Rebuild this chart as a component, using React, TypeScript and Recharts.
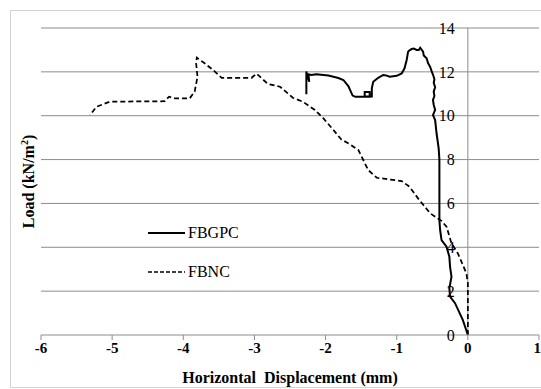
import {
  Line,
  LineChart,
  ReferenceDot,
  ReferenceLine,
  XAxis,
  YAxis,
} from "recharts";

// FBGPC (solid) - displacement (mm) and load (kN/m2), from origin outward
const fbgpcX = [
  0, -0.07, -0.18, -0.25, -0.26, -0.23, -0.25, -0.26, -0.3, -0.37, -0.39, -0.4,
  -0.4, -0.4, -0.41, -0.42, -0.44, -0.46, -0.49, -0.46, -0.48, -0.49, -0.47,
  -0.48, -0.46, -0.48, -0.47, -0.48, -0.5, -0.53, -0.56, -0.58, -0.62, -0.63,
  -0.67, -0.69, -0.72, -0.76, -0.79, -0.82, -0.84, -0.86, -0.89, -0.93, -1.0,
  -1.1, -1.15, -1.19, -1.26, -1.33, -1.35, -1.35, -1.36, -1.45, -1.45, -1.38,
  -1.38, -1.58, -1.62, -1.68, -1.75, -1.82, -1.89, -1.96, -2.03, -2.13, -2.2,
  -2.24, -2.23, -2.26, -2.27, -2.27,
];
const fbgpcY = [
  0, 0.68, 1.45, 1.75, 2.13, 2.66, 3.11, 3.57, 4.03, 4.33, 4.79, 5.24, 6.5, 8.0,
  8.5, 8.74, 9.2, 9.8, 10.03, 10.26, 10.5, 10.72, 10.9, 11.1, 11.3, 11.5, 11.65,
  11.78, 11.95, 12.23, 12.4, 12.62, 12.75, 12.92, 13.1, 13.0, 13.0, 13.06, 13.04,
  12.98, 12.92, 12.54, 12.16, 11.93, 11.82, 11.78, 11.84, 11.86, 11.73, 11.55,
  11.25, 10.88, 10.88, 10.88, 11.08, 11.08, 10.86, 10.86, 10.92, 11.35, 11.63,
  11.72, 11.78, 11.83, 11.86, 11.89, 11.86, 11.89, 11.55, 11.86, 12.02, 10.98,
];

// FBNC (dashed)
const fbncX = [
  0, 0, -0.02, -0.14, -0.23, -0.3, -0.37, -0.53, -0.7, -0.82, -0.93, -1.28, -1.4,
  -1.47, -1.54, -1.66, -1.78, -1.89, -2.03, -2.15, -2.32, -2.46, -2.64, -2.81,
  -2.9, -2.97, -3.04, -3.46, -3.58, -3.7, -3.81, -3.82, -3.8, -3.84, -3.91,
  -4.12, -4.2, -4.26, -5.03, -5.22, -5.31,
];
const fbncY = [
  0, 2.36, 2.81, 3.72, 4.18, 4.94, 5.2, 5.55, 6.23, 6.76, 7.02, 7.17, 7.52, 7.98,
  8.44, 8.7, 8.92, 9.35, 9.88, 10.26, 10.64, 10.82, 11.32, 11.45, 11.71, 11.92,
  11.73, 11.73, 12.08, 12.39, 12.65, 12.4, 11.78, 11.1, 10.79, 10.79, 10.87,
  10.66, 10.64, 10.41, 10.03,
];

const xTicks = [-6, -5, -4, -3, -2, -1, 0, 1];
const yTicks = [0, 2, 4, 6, 8, 10, 12, 14];

const fbgpc = fbgpcX.map((x, i) => ({ x, y: fbgpcY[i] }));
const fbnc = fbncX.map((x, i) => ({ x, y: fbncY[i] }));

const serif = "'Liberation Serif', 'Times New Roman', serif";
const gridColor = "#8c8c8c";

function YTitle(props: any) {
  const vb = props.viewBox;
  const cx = vb.x + 34;
  const cy = vb.y + vb.height / 2;
  return (
    <text
      transform={`translate(${cx}, ${cy}) rotate(-90)`}
      textAnchor="middle"
      fontFamily={serif}
      fontWeight="bold"
      fontSize={16}
      fill="#000"
    >
      <tspan>Load (kN/m</tspan>
      <tspan dy={-6} fontSize={10}>
        2
      </tspan>
      <tspan dy={6}>)</tspan>
    </text>
  );
}

function XTitle(props: any) {
  const vb = props.viewBox;
  return (
    <text
      x={vb.x + vb.width / 2}
      y={vb.y + 48}
      textAnchor="middle"
      fontFamily={serif}
      fontWeight="bold"
      fontSize={16}
      fill="#000"
      style={{ whiteSpace: "pre" }}
    >
      {"Horizontal  Displacement (mm)"}
    </text>
  );
}

function LegendRow({ label, dash }: { label: string; dash?: string }) {
  return (
    <div style={{ display: "flex", alignItems: "center", height: 20 }}>
      <svg width={40} height={6}>
        <line
          x1={0}
          y1={3}
          x2={37}
          y2={3}
          stroke="#000"
          strokeWidth={dash ? 1.5 : 2}
          strokeDasharray={dash}
        />
      </svg>
      <span style={{ fontFamily: serif, fontSize: 16, color: "#000" }}>
        {label}
      </span>
    </div>
  );
}

export default function App() {
  return (
    <div
      style={{
        position: "absolute",
        left: 0,
        top: 0,
        width: 541,
        height: 389,
        background: "#fff",
        overflow: "hidden",
      }}
    >
      <div
        style={{
          position: "absolute",
          left: 10,
          top: 10,
          width: 545,
          height: 378,
          boxSizing: "border-box",
          border: "1px solid #d4d4d4",
        }}
      />
      <LineChart
        width={541}
        height={389}
        margin={{ top: 28, right: 2, left: 0, bottom: 0 }}
        style={{ position: "absolute", left: 0, top: 0 }}
      >
        <XAxis
          type="number"
          dataKey="x"
          domain={[-6, 1]}
          ticks={xTicks}
          allowDataOverflow
          height={54}
          axisLine={{ stroke: gridColor }}
          tickLine={{ stroke: gridColor }}
          tickSize={5}
          tick={{
            fill: "#000",
            fontSize: 15,
            fontWeight: "bold",
            fontFamily: serif,
          }}
          label={{ content: XTitle }}
        />
        <YAxis
          type="number"
          dataKey="y"
          domain={[0, 14]}
          ticks={yTicks}
          width={41}
          axisLine={false}
          tickLine={false}
          tick={false}
          label={{ content: YTitle }}
        />
        {yTicks
          .filter((v) => v > 0)
          .map((v) => (
            <ReferenceLine key={`g${v}`} y={v} stroke={gridColor} />
          ))}
        <ReferenceLine x={0} stroke={gridColor} />
        {yTicks.map((v) => (
          <ReferenceDot
            key={v}
            x={0}
            y={v}
            r={0}
            fill="none"
            stroke="none"
            label={{
              value: v,
              position: "left",
              offset: 13,
              fill: "#000",
              fontSize: 16,
              fontFamily: serif,
            }}
          />
        ))}
        <Line
          data={fbnc}
          dataKey="y"
          type="linear"
          stroke="#000"
          strokeWidth={1.75}
          strokeDasharray="5 3"
          dot={false}
          isAnimationActive={false}
        />
        <Line
          data={fbgpc}
          dataKey="y"
          type="linear"
          stroke="#000"
          strokeWidth={2}
          dot={false}
          isAnimationActive={false}
        />
      </LineChart>
      <div style={{ position: "absolute", left: 148, top: 223 }}>
        <LegendRow label="FBGPC" />
      </div>
      <div style={{ position: "absolute", left: 148, top: 262 }}>
        <LegendRow label="FBNC" dash="4 2" />
      </div>
    </div>
  );
}
